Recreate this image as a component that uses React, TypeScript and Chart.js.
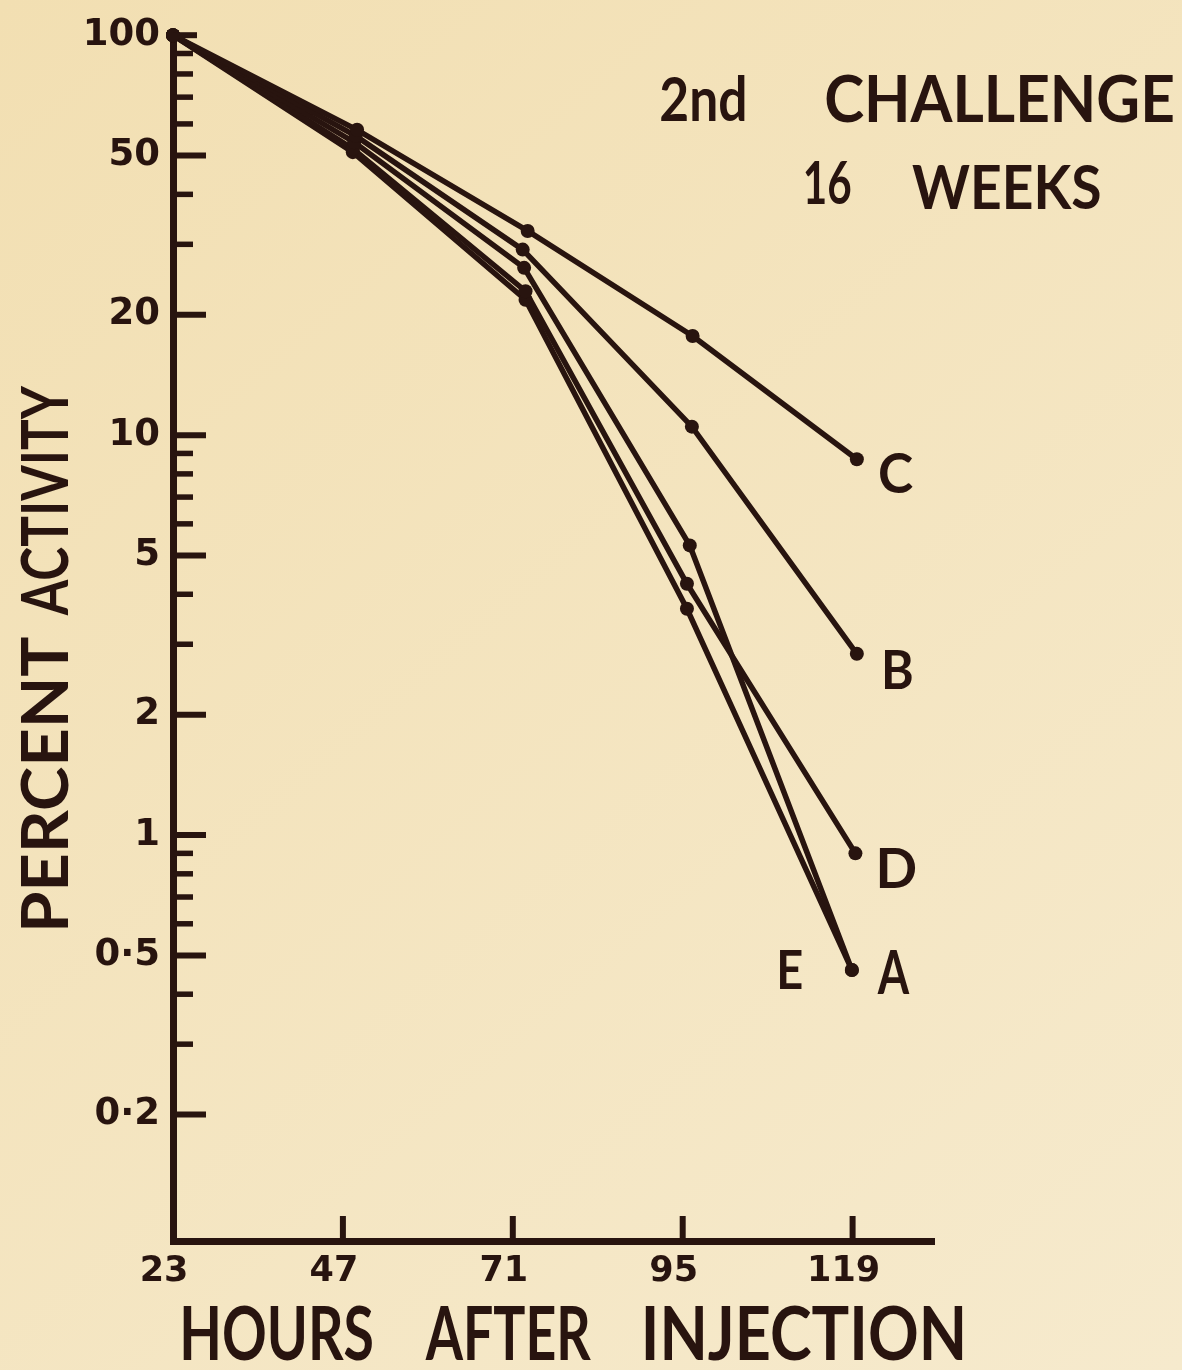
import { useEffect, useRef } from "react";
import { Chart, registerables } from "chart.js";

Chart.register(...registerables);

// ---------- data ----------
const hourTicks = [23, 47, 71, 95, 119];
const percentMajorTicks = [100, 50, 20, 10, 5, 2, 1, 0.5, 0.2];
const percentMajorLabels = ["100", "50", "20", "10", "5", "2", "1", "0·5", "0·2"];
const percentMinorTicks = [90, 80, 70, 60, 40, 30, 9, 8, 7, 6, 4, 3, 0.9, 0.8, 0.7, 0.6, 0.4, 0.3];

const seriesNames = ["C", "B", "A", "D", "E"];
const hoursC = [23, 49.0, 73.1, 96.4, 119.6];
const percentC = [100, 58, 32.4, 17.7, 8.7];
const hoursB = [23, 48.8, 72.4, 96.3, 119.6];
const percentB = [100, 56, 29.1, 10.5, 2.84];
const hoursA = [23, 48.6, 72.6, 96.0, 118.9];
const percentA = [100, 54, 26.2, 5.3, 0.46];
const hoursD = [23, 48.4, 72.8, 95.6, 119.4];
const percentD = [100, 52, 22.9, 4.25, 0.9];
const hoursE = [23, 48.4, 72.8, 95.6, 118.9];
const percentE = [100, 51, 21.8, 3.68, 0.46];

const titleLine1 = ["2nd", "CHALLENGE"];
const titleLine2 = ["16", "WEEKS"];
const xAxisTitle = ["HOURS", "AFTER", "INJECTION"];
const yAxisTitle = ["PERCENT", "ACTIVITY"];

// ---------- styles ----------
const INK = "#28140f";
const PAPER_A = "#f2dfb2";
const PAPER_B = "#f6eacd";
const TEXT_FONT = "Lato, 'Open Sans', sans-serif";
const TEXT_WEIGHT = "bold";
const TICK_FONT = "'DejaVu Sans', sans-serif";

const seriesHours = [hoursC, hoursB, hoursA, hoursD, hoursE];
const seriesValues = [percentC, percentB, percentA, percentD, percentE];

// label placement relative to last point: [dx, dBaseline, inkWidth, capHeight]
const labelPlacement: Record<string, number[]> = {
  C: [23, 34, 33, 40],
  B: [28, 35, 27, 39],
  A: [25, 24, 33, 44],
  D: [24, 35, 36, 40],
  E: [-72, 19, 22, 39],
};

function drawWord(
  ctx: CanvasRenderingContext2D,
  text: string,
  left: number,
  baseline: number,
  inkWidth: number,
  capHeight: number,
  weight = TEXT_WEIGHT
) {
  ctx.font = `${weight} 100px ${TEXT_FONT}`;
  const hM = ctx.measureText("H");
  const size = (100 * capHeight) / (hM.actualBoundingBoxAscent || 72);
  ctx.font = `${weight} ${size}px ${TEXT_FONT}`;
  const m = ctx.measureText(text);
  const w = m.actualBoundingBoxLeft + m.actualBoundingBoxRight;
  const sx = w > 0 ? inkWidth / w : 1;
  ctx.save();
  ctx.translate(left, baseline);
  ctx.scale(sx, 1);
  ctx.fillStyle = INK;
  ctx.textAlign = "left";
  ctx.textBaseline = "alphabetic";
  ctx.fillText(text, m.actualBoundingBoxLeft, 0);
  ctx.restore();
}

const paperPlugin = {
  id: "paper",
  beforeDraw(chart: any) {
    const { ctx, width, height } = chart;
    const g = ctx.createLinearGradient(0, 0, width, height);
    g.addColorStop(0, PAPER_A);
    g.addColorStop(1, PAPER_B);
    ctx.save();
    ctx.fillStyle = g;
    ctx.fillRect(0, 0, width, height);
    ctx.restore();
  },
};

const inkPlugin = {
  id: "ink",
  afterDraw(chart: any) {
    const { ctx, chartArea, scales } = chart;
    const xs = scales.x;
    const ys = scales.y;
    ctx.save();
    ctx.strokeStyle = INK;
    ctx.lineCap = "butt";
    ctx.lineWidth = 6;
    // inward y ticks
    for (const v of percentMajorTicks) {
      const py = ys.getPixelForValue(v);
      ctx.beginPath();
      ctx.moveTo(chartArea.left, py);
      ctx.lineTo(chartArea.left + (v === 100 ? 24 : 33), py);
      ctx.stroke();
    }
    ctx.lineWidth = 5.5;
    for (const v of percentMinorTicks) {
      const py = ys.getPixelForValue(v);
      ctx.beginPath();
      ctx.moveTo(chartArea.left, py);
      ctx.lineTo(chartArea.left + 20, py);
      ctx.stroke();
    }
    // inward x ticks
    ctx.lineWidth = 6;
    for (const v of hourTicks.slice(1)) {
      const px = xs.getPixelForValue(v);
      ctx.beginPath();
      ctx.moveTo(px, chartArea.bottom);
      ctx.lineTo(px, chartArea.bottom - 25);
      ctx.stroke();
    }
    ctx.restore();

    // series labels at the end points
    chart.data.datasets.forEach((ds: any, i: number) => {
      const meta = chart.getDatasetMeta(i);
      const last = meta.data[meta.data.length - 1];
      const p = labelPlacement[ds.label];
      drawWord(ctx, ds.label, last.x + p[0], last.y + p[1], p[2], p[3]);
    });

    // title
    drawWord(ctx, titleLine1[0], 661, 121, 84, 45);
    drawWord(ctx, titleLine1[1], 826, 122, 347, 47);
    drawWord(ctx, titleLine2[0], 805, 204, 46, 43);
    drawWord(ctx, titleLine2[1], 912, 209, 188, 45);

    // x axis title
    drawWord(ctx, xAxisTitle[0], 183, 1360, 189, 54);
    drawWord(ctx, xAxisTitle[1], 425, 1360, 166, 54);
    drawWord(ctx, xAxisTitle[2], 645, 1360, 318, 54);

    // y axis title (rotated)
    ctx.save();
    ctx.translate(68, 0);
    ctx.rotate(-Math.PI / 2);
    drawWord(ctx, yAxisTitle[0], -928, 0, 291, 48);
    drawWord(ctx, yAxisTitle[1], -616, 0, 231, 48);
    ctx.restore();
  },
};

export default function App() {
  const ref = useRef<HTMLCanvasElement | null>(null);

  useEffect(() => {
    document.body.style.margin = "0";
    document.body.style.background = PAPER_B;
    const canvas = ref.current!;
    const datasets = seriesNames.map((name, i) => ({
      label: name,
      data: seriesHours[i].map((h, j) => ({ x: h, y: seriesValues[i][j] })),
      borderColor: INK,
      backgroundColor: INK,
      pointBackgroundColor: INK,
      pointBorderColor: INK,
      borderWidth: 5.5,
      pointRadius: 7,
      pointBorderWidth: 0,
      tension: 0,
      fill: false,
      clip: false as any,
    }));

    const chart = new Chart(canvas, {
      type: "line",
      data: { datasets },
      options: {
        responsive: false,
        animation: false,
        devicePixelRatio: 1,
        layout: { padding: { left: 0, right: 248, top: 30, bottom: 0 } },
        plugins: {
          legend: { display: false },
          tooltip: { enabled: false },
          title: { display: false },
        },
        scales: {
          x: {
            type: "linear",
            position: "bottom",
            min: 23,
            max: 130.5,
            grid: { display: false, drawTicks: false },
            border: { display: true, color: INK, width: 7 },
            afterBuildTicks: (s: any) => {
              s.ticks = hourTicks.map((v) => ({ value: v }));
            },
            afterFit: (s: any) => {
              s.height = 129;
            },
            ticks: {
              color: INK,
              font: { family: TICK_FONT, weight: "bold", size: 35 },
              padding: 10,
              labelOffset: -9,
              maxRotation: 0,
              autoSkip: false,
              callback: (v: any) => String(v),
            },
          },
          y: {
            type: "logarithmic",
            position: "left",
            min: 0.0966,
            max: 100,
            grid: { display: false, drawTicks: false },
            border: { display: true, color: INK, width: 7 },
            afterBuildTicks: (s: any) => {
              s.ticks = percentMajorTicks.map((v) => ({ value: v }));
            },
            afterFit: (s: any) => {
              s.width = 173;
            },
            ticks: {
              color: INK,
              font: { family: TICK_FONT, weight: "bold", size: 37 },
              padding: 13,
              autoSkip: false,
              callback: (v: any) => {
                const i = percentMajorTicks.indexOf(Number(v));
                return i >= 0 ? percentMajorLabels[i] : "";
              },
            },
          },
        },
      },
      plugins: [paperPlugin, inkPlugin],
    });
    return () => chart.destroy();
  }, []);

  return (
    <canvas
      ref={ref}
      width={1182}
      height={1370}
      style={{ position: "absolute", left: 0, top: 0, display: "block" }}
    />
  );
}
